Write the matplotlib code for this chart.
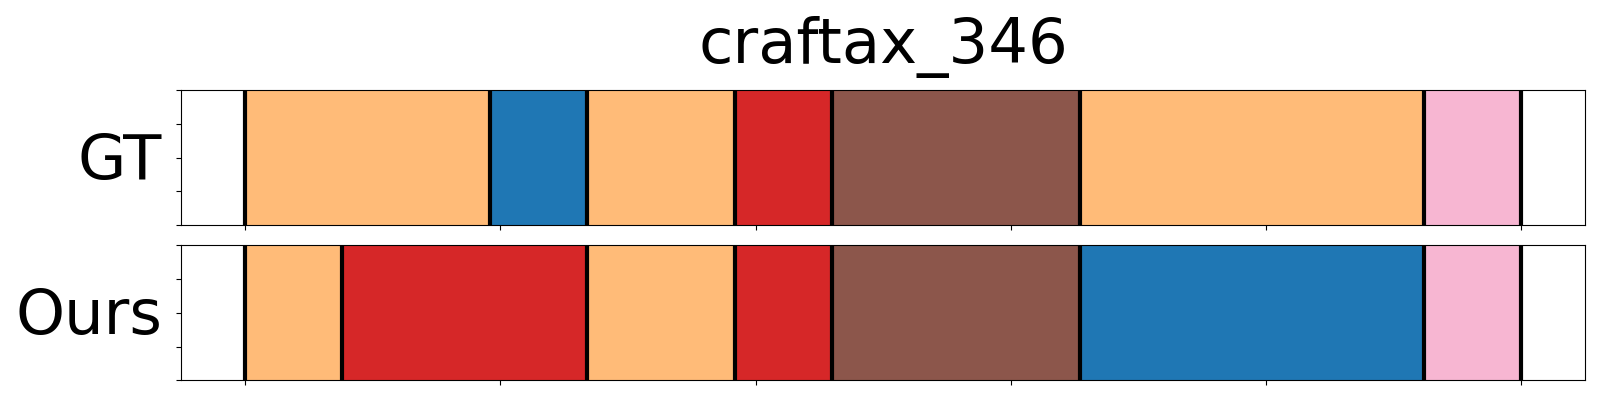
import matplotlib
matplotlib.use("Agg")
import matplotlib.pyplot as plt

title = "craftax_346"
row_labels = ["GT", "Ours"]
total_len = 250
xtick_vals = [0, 50, 100, 150, 200, 250]

gt_bounds = [0, 48, 67, 96, 115, 163.5, 231, 250]
gt_colors = ["#ffbb78", "#1f77b4", "#ffbb78", "#d62728", "#8c564b", "#ffbb78", "#f7b6d2"]

ours_bounds = [0, 19, 67, 96, 115, 163.5, 231, 250]
ours_colors = ["#ffbb78", "#d62728", "#ffbb78", "#d62728", "#8c564b", "#1f77b4", "#f7b6d2"]

fig = plt.figure(figsize=(16, 4), dpi=100)
ax1 = fig.add_axes([0.1133, 0.4375, 0.8775, 0.3365])
ax2 = fig.add_axes([0.1133, 0.049, 0.8775, 0.338])

for ax, bounds, colors, label in [(ax1, gt_bounds, gt_colors, row_labels[0]),
                                   (ax2, ours_bounds, ours_colors, row_labels[1])]:
    for i, c in enumerate(colors):
        ax.axvspan(bounds[i], bounds[i + 1], ymin=0, ymax=1, color=c, lw=0)
    for b in bounds:
        ax.axvline(b, color="black", lw=3)
    ax.set_xlim(-0.05 * total_len, 1.05 * total_len)
    ax.set_ylim(0, 1)
    ax.set_xticks(xtick_vals)
    ax.set_xticklabels([])
    ax.set_yticks([0, 0.25, 0.5, 0.75, 1.0])
    ax.set_yticklabels([])
    ax.set_ylabel(label, rotation=0, fontsize=45, ha="right", va="center")
    ax.yaxis.set_label_coords(-0.0135, 0.47)

ax1.set_title(title, fontsize=45, pad=20)

fig.savefig("out.png", dpi=100)
